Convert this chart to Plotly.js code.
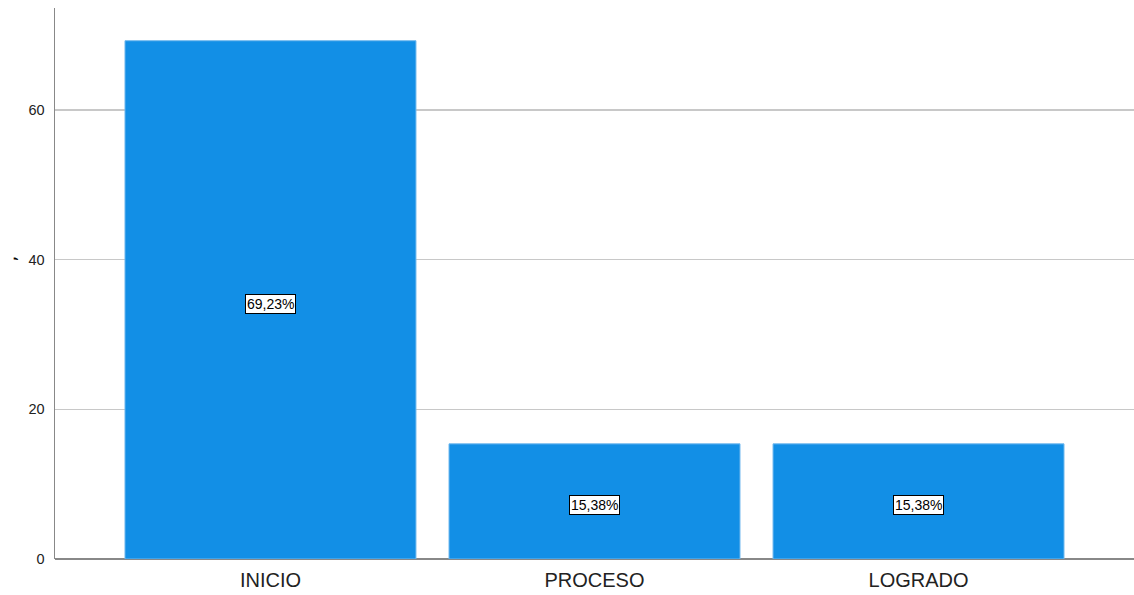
<!DOCTYPE html>
<html>
<head>
<meta charset="utf-8">
<script src="https://cdn.plot.ly/plotly-3.0.1.min.js"></script>
<style>html,body{margin:0;padding:0;background:#fff;}#chart{width:1134px;height:595px;}</style>
</head>
<body>
<div id="chart"></div>
<script>
var categories = ["INICIO", "PROCESO", "LOGRADO"];
var percentValues = [69.23, 15.38, 15.38];
var percentLabels = ["69,23%", "15,38%", "15,38%"];
var yTickValues = [0, 20, 40, 60];
var yAxisTitle = ",";

var FONT = "Liberation Sans, Arial, sans-serif";

var trace = {
  type: "bar",
  x: categories,
  y: percentValues,
  width: 0.898,
  marker: {color: "#128fe6", line: {color: "#6fb8ee", width: 1}},
  hoverinfo: "none"
};

var annotations = categories.map(function (c, i) {
  return {
    x: c, y: percentValues[i] / 2, xref: "x", yref: "y", yshift: -4,
    text: percentLabels[i], showarrow: false,
    bgcolor: "#ffffff", bordercolor: "#000000", borderwidth: 1, borderpad: 1,
    font: {family: FONT, size: 14, color: "#000"}
  };
});

annotations.push({
  xref: "paper", yref: "paper", x: -0.042, y: 0.545,
  xanchor: "center", yanchor: "middle",
  text: yAxisTitle, textangle: -90, showarrow: false,
  font: {family: "DejaVu Sans, sans-serif", size: 18, color: "#000"}
});

var layout = {
  width: 1134, height: 595,
  margin: {l: 55, r: 0, t: 8, b: 36},
  paper_bgcolor: "#ffffff", plot_bgcolor: "#ffffff",
  showlegend: false,
  xaxis: {
    range: [-0.665, 2.665],
    showline: false, showgrid: false, zeroline: false,
    ticks: "outside", ticklen: 3, tickcolor: "rgba(0,0,0,0)",
    tickfont: {family: FONT, size: 20, color: "#222"}
  },
  yaxis: {
    range: [0, 73.6],
    tickvals: yTickValues,
    showline: true, linecolor: "#888888", linewidth: 1.5,
    showgrid: true, gridcolor: "#c8c8c8", gridwidth: 1.5,
    zeroline: true, zerolinecolor: "#888888", zerolinewidth: 1.5,
    ticks: "outside", ticklen: 6, tickcolor: "rgba(0,0,0,0)",
    tickfont: {family: FONT, size: 14.5, color: "#222"}
  },
  annotations: annotations
};

Plotly.newPlot("chart", [trace], layout, {displayModeBar: false, staticPlot: true});
</script>
</body>
</html>
